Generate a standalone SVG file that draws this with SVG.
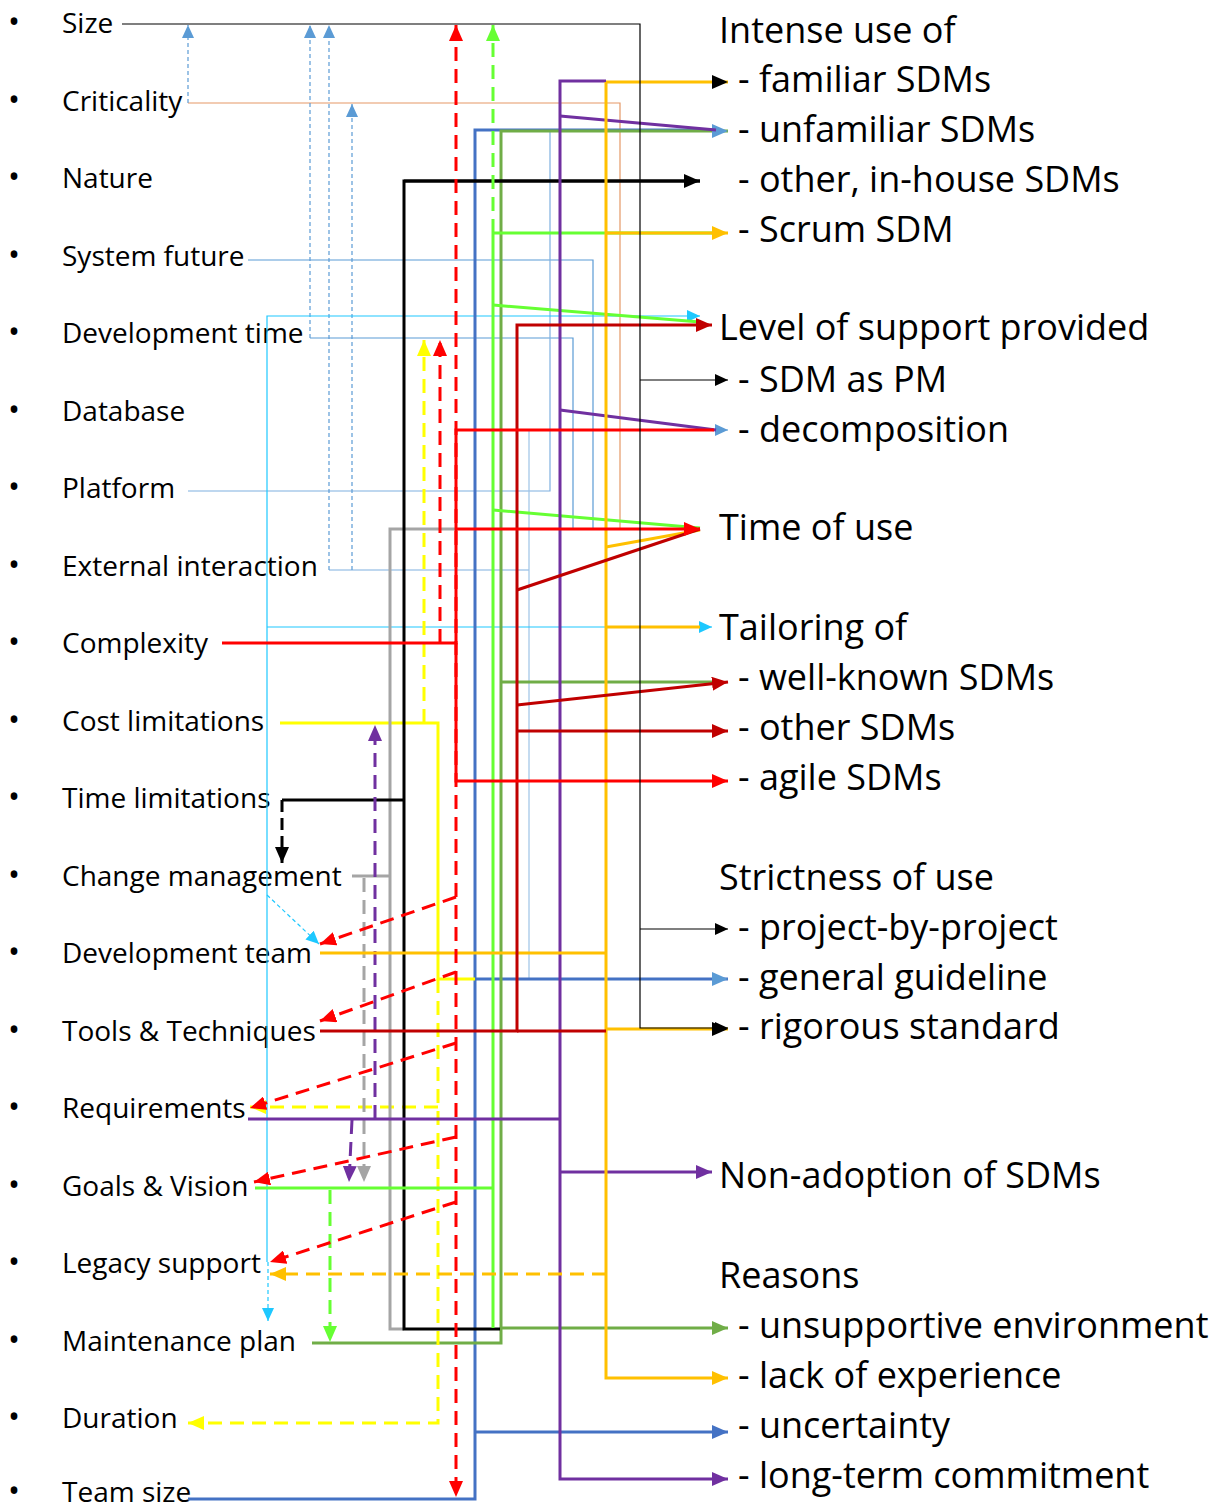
<svg xmlns="http://www.w3.org/2000/svg" width="1224" height="1508" viewBox="0 0 1224 1508">
  <style>
    .lbl { font-family: "Open Sans", "Noto Sans", sans-serif; font-size: 28px; fill: #000; }
    .out { font-family: "Open Sans", "Noto Sans", sans-serif; font-size: 36px; fill: #000; }
    .bul { font-family: "Open Sans", "Noto Sans", sans-serif; font-size: 32px; fill: #000; }
    .ln { fill: none; stroke-linejoin: miter; }
    .thin { stroke-width: 1.2; }
    .thick { stroke-width: 3; }
    .dsh { stroke-dasharray: 14 8; }
    .dot { stroke-dasharray: 4 3; }
  </style>
  <defs>
    <marker id="a-black" markerUnits="userSpaceOnUse" markerWidth="16" markerHeight="14" refX="16" refY="7" orient="auto-start-reverse" viewBox="0 0 16 14"><path d="M0,0 L16,7 L0,14 z" fill="#000"/></marker>
    <marker id="a-red" markerUnits="userSpaceOnUse" markerWidth="16" markerHeight="14" refX="16" refY="7" orient="auto-start-reverse" viewBox="0 0 16 14"><path d="M0,0 L16,7 L0,14 z" fill="#FF0000"/></marker>
    <marker id="a-dred" markerUnits="userSpaceOnUse" markerWidth="16" markerHeight="14" refX="16" refY="7" orient="auto-start-reverse" viewBox="0 0 16 14"><path d="M0,0 L16,7 L0,14 z" fill="#C00000"/></marker>
    <marker id="a-orange" markerUnits="userSpaceOnUse" markerWidth="16" markerHeight="14" refX="16" refY="7" orient="auto-start-reverse" viewBox="0 0 16 14"><path d="M0,0 L16,7 L0,14 z" fill="#FFC000"/></marker>
    <marker id="a-yellow" markerUnits="userSpaceOnUse" markerWidth="16" markerHeight="14" refX="16" refY="7" orient="auto-start-reverse" viewBox="0 0 16 14"><path d="M0,0 L16,7 L0,14 z" fill="#FFFF00"/></marker>
    <marker id="a-green" markerUnits="userSpaceOnUse" markerWidth="16" markerHeight="14" refX="16" refY="7" orient="auto-start-reverse" viewBox="0 0 16 14"><path d="M0,0 L16,7 L0,14 z" fill="#66FF33"/></marker>
    <marker id="a-olive" markerUnits="userSpaceOnUse" markerWidth="16" markerHeight="14" refX="16" refY="7" orient="auto-start-reverse" viewBox="0 0 16 14"><path d="M0,0 L16,7 L0,14 z" fill="#70AD47"/></marker>
    <marker id="a-gray" markerUnits="userSpaceOnUse" markerWidth="16" markerHeight="14" refX="16" refY="7" orient="auto-start-reverse" viewBox="0 0 16 14"><path d="M0,0 L16,7 L0,14 z" fill="#A5A5A5"/></marker>
    <marker id="a-purple" markerUnits="userSpaceOnUse" markerWidth="16" markerHeight="14" refX="16" refY="7" orient="auto-start-reverse" viewBox="0 0 16 14"><path d="M0,0 L16,7 L0,14 z" fill="#7030A0"/></marker>
    <marker id="a-blue" markerUnits="userSpaceOnUse" markerWidth="16" markerHeight="14" refX="16" refY="7" orient="auto-start-reverse" viewBox="0 0 16 14"><path d="M0,0 L16,7 L0,14 z" fill="#4472C4"/></marker>
    <marker id="a-sky" markerUnits="userSpaceOnUse" markerWidth="16" markerHeight="14" refX="16" refY="7" orient="auto-start-reverse" viewBox="0 0 16 14"><path d="M0,0 L16,7 L0,14 z" fill="#5B9BD5"/></marker>
    <marker id="s-black" markerUnits="userSpaceOnUse" markerWidth="13" markerHeight="12" refX="13" refY="6" orient="auto" viewBox="0 0 13 12"><path d="M0,0 L13,6 L0,12 z" fill="#000"/></marker>
    <marker id="s-sky" markerUnits="userSpaceOnUse" markerWidth="13" markerHeight="12" refX="13" refY="6" orient="auto" viewBox="0 0 13 12"><path d="M0,0 L13,6 L0,12 z" fill="#5B9BD5"/></marker>
    <marker id="s-cyan" markerUnits="userSpaceOnUse" markerWidth="13" markerHeight="12" refX="13" refY="6" orient="auto" viewBox="0 0 13 12"><path d="M0,0 L13,6 L0,12 z" fill="#1EC8FF"/></marker>
  </defs>

  <rect width="1224" height="1508" fill="#fff"/>

  <!-- input factors (left column) -->
  <g id="in-size"><text class="bul" x="8" y="33">•</text><text class="lbl" x="62" y="33">Size</text></g>
  <g id="in-criticality"><text class="bul" x="8" y="111">•</text><text class="lbl" x="62" y="111">Criticality</text></g>
  <g id="in-nature"><text class="bul" x="8" y="188">•</text><text class="lbl" x="62" y="188">Nature</text></g>
  <g id="in-system-future"><text class="bul" x="8" y="266">•</text><text class="lbl" x="62" y="266">System future</text></g>
  <g id="in-development-time"><text class="bul" x="8" y="343">•</text><text class="lbl" x="62" y="343">Development time</text></g>
  <g id="in-database"><text class="bul" x="8" y="421">•</text><text class="lbl" x="62" y="421">Database</text></g>
  <g id="in-platform"><text class="bul" x="8" y="498">•</text><text class="lbl" x="62" y="498">Platform</text></g>
  <g id="in-external-interaction"><text class="bul" x="8" y="576">•</text><text class="lbl" x="62" y="576">External interaction</text></g>
  <g id="in-complexity"><text class="bul" x="8" y="653">•</text><text class="lbl" x="62" y="653">Complexity</text></g>
  <g id="in-cost-limitations"><text class="bul" x="8" y="731">•</text><text class="lbl" x="62" y="731">Cost limitations</text></g>
  <g id="in-time-limitations"><text class="bul" x="8" y="808">•</text><text class="lbl" x="62" y="808">Time limitations</text></g>
  <g id="in-change-management"><text class="bul" x="8" y="886">•</text><text class="lbl" x="62" y="886">Change management</text></g>
  <g id="in-development-team"><text class="bul" x="8" y="963">•</text><text class="lbl" x="62" y="963">Development team</text></g>
  <g id="in-tools-techniques"><text class="bul" x="8" y="1041">•</text><text class="lbl" x="62" y="1041">Tools &amp; Techniques</text></g>
  <g id="in-requirements"><text class="bul" x="8" y="1118">•</text><text class="lbl" x="62" y="1118">Requirements</text></g>
  <g id="in-goals-vision"><text class="bul" x="8" y="1196">•</text><text class="lbl" x="62" y="1196">Goals &amp; Vision</text></g>
  <g id="in-legacy-support"><text class="bul" x="8" y="1273">•</text><text class="lbl" x="62" y="1273">Legacy support</text></g>
  <g id="in-maintenance-plan"><text class="bul" x="8" y="1351">•</text><text class="lbl" x="62" y="1351">Maintenance plan</text></g>
  <g id="in-duration"><text class="bul" x="8" y="1428">•</text><text class="lbl" x="62" y="1428">Duration</text></g>
  <g id="in-team-size"><text class="bul" x="8" y="1502">•</text><text class="lbl" x="62" y="1502">Team size</text></g>

  <!-- outcomes (right column) -->
  <g id="out-intense-use">
    <text class="out" x="719" y="43">Intense use of</text>
    <text class="out" x="738" y="92">- familiar SDMs</text>
    <text class="out" x="738" y="142">- unfamiliar SDMs</text>
    <text class="out" x="738" y="192">- other, in-house SDMs</text>
    <text class="out" x="738" y="242">- Scrum SDM</text>
  </g>
  <g id="out-level-of-support">
    <text class="out" x="719" y="340">Level of support provided</text>
    <text class="out" x="738" y="392">- SDM as PM</text>
    <text class="out" x="738" y="442">- decomposition</text>
  </g>
  <g id="out-time-of-use"><text class="out" x="719" y="540">Time of use</text></g>
  <g id="out-tailoring">
    <text class="out" x="719" y="640">Tailoring of</text>
    <text class="out" x="738" y="690">- well-known SDMs</text>
    <text class="out" x="738" y="740">- other SDMs</text>
    <text class="out" x="738" y="790">- agile SDMs</text>
  </g>
  <g id="out-strictness">
    <text class="out" x="719" y="890">Strictness of use</text>
    <text class="out" x="738" y="940">- project-by-project</text>
    <text class="out" x="738" y="990">- general guideline</text>
    <text class="out" x="738" y="1039">- rigorous standard</text>
  </g>
  <g id="out-non-adoption"><text class="out" x="719" y="1188">Non-adoption of SDMs</text></g>
  <g id="out-reasons">
    <text class="out" x="719" y="1288">Reasons</text>
    <text class="out" x="738" y="1338">- unsupportive environment</text>
    <text class="out" x="738" y="1388">- lack of experience</text>
    <text class="out" x="738" y="1438">- uncertainty</text>
    <text class="out" x="738" y="1488">- long-term commitment</text>
  </g>

  <g id="connectors">
    <!-- thin feeds -->
    <path class="ln thin" stroke="#E59866" d="M188,103 H620 V529"/>
    <path class="ln thin" stroke="#5B9BD5" d="M248,260 H593 V529"/>
    <path class="ln thin" stroke="#5B9BD5" d="M310,338 H573 V529"/>
    <path class="ln thin" stroke="#7EB0E0" d="M188,491 H550 V131"/>
    <path class="ln thin" stroke="#7EB0E0" d="M329,570 H529"/>
    <path class="ln thin" stroke="#9DC3E6" d="M529,430 V979"/>
    <path class="ln thin" stroke="#5B9BD5" d="M529,430 H728" marker-end="url(#s-sky)"/>
    <!-- dotted upward arrows to Size / Criticality -->
    <path class="ln thin dot" stroke="#5B9BD5" d="M188,103 V25" marker-end="url(#s-sky)"/>
    <path class="ln thin dot" stroke="#5B9BD5" d="M310,338 V25" marker-end="url(#s-sky)"/>
    <path class="ln thin dot" stroke="#5B9BD5" d="M329,570 V25" marker-end="url(#s-sky)"/>
    <path class="ln thin dot" stroke="#5B9BD5" d="M352,570 V104" marker-end="url(#s-sky)"/>

    <!-- cyan -->
    <path class="ln thin" stroke="#1EC8FF" d="M267,1262 V316 H700" marker-end="url(#s-cyan)"/>
    <path class="ln thin" stroke="#1EC8FF" d="M267,627 H712" marker-end="url(#s-cyan)"/>
    <path class="ln thin dot" stroke="#1EC8FF" d="M268,1262 V1321" marker-end="url(#s-cyan)"/>
    <path class="ln thin dot" stroke="#1EC8FF" d="M267,895 L319,944" marker-end="url(#s-cyan)"/>

    <!-- blue (Team size) -->
    <path class="ln thick" stroke="#4472C4" d="M188,1499 H475 V130 H716"/>
    <path class="ln thick" stroke="#4472C4" d="M475,979 H728" marker-end="url(#a-sky)"/>
    <path class="ln thick" stroke="#4472C4" d="M475,1432 H728" marker-end="url(#a-blue)"/>

    <!-- olive (Maintenance plan) -->
    <path class="ln thick" stroke="#70AD47" d="M312,1343 H501 V131 H728" marker-end="url(#a-sky)"/>
    <path class="ln thick" stroke="#70AD47" d="M501,682 H716"/>

    <!-- yellow (Cost limitations) -->
    <path class="ln thick" stroke="#FFFF00" d="M280,723 H438 V979 H475"/>
    <path class="ln thick dsh" stroke="#FFFF00" d="M424,723 V340" marker-end="url(#a-yellow)"/>
    <path class="ln thick dsh" stroke="#FFFF00" d="M438,979 V1423 H188" marker-end="url(#a-yellow)"/>
    <path class="ln thick dsh" stroke="#FFFF00" d="M438,1107 H250" marker-end="url(#a-yellow)"/>

    <!-- gray (Change management) -->
    <path class="ln thick" stroke="#A5A5A5" d="M352,876 H390"/>
    <path class="ln thick" stroke="#A5A5A5" d="M456,529 H390 V1329 H404"/>
    <path class="ln thick dsh" stroke="#A5A5A5" d="M364,878 V1182" marker-end="url(#a-gray)"/>

    <!-- black (Time limitations) -->
    <path class="ln thick" stroke="#000" d="M282,800 H404"/>
    <path class="ln thick" stroke="#000" d="M700,181 H404 V1329 H500"/>
    <path class="ln thick" stroke="#000" d="M404,181 H700" marker-end="url(#a-black)"/>
    <path class="ln thick" stroke="#000" stroke-dasharray="12 6" d="M282,800 V863" marker-end="url(#a-black)"/>

    <!-- green (Goals & Vision) -->
    <path class="ln thick" stroke="#66FF33" d="M255,1188 H493"/>
    <path class="ln thick" stroke="#66FF33" d="M493,233 V1328"/>
    <path class="ln thick dsh" stroke="#66FF33" d="M493,233 V25" marker-end="url(#a-green)"/>
    <path class="ln thick" stroke="#66FF33" d="M493,233 H720"/>
    <path class="ln thick" stroke="#66FF33" d="M493,305 L700,322"/>
    <path class="ln thick" stroke="#66FF33" d="M493,510 L700,528"/>
    <path class="ln thick dsh" stroke="#66FF33" d="M330,1190 V1342" marker-end="url(#a-green)"/>
    <path class="ln thick" stroke="#70AD47" d="M500,1328 H728" marker-end="url(#a-olive)"/>

    <!-- purple (Requirements) -->
    <path class="ln thick" stroke="#7030A0" d="M248,1119 H560"/>
    <path class="ln thick" stroke="#7030A0" d="M606,81 H560 V1479 H728" marker-end="url(#a-purple)"/>
    <path class="ln thick" stroke="#7030A0" d="M560,116 L716,130"/>
    <path class="ln thick" stroke="#7030A0" d="M560,410 L716,430"/>
    <path class="ln thick" stroke="#7030A0" d="M560,1172 H712" marker-end="url(#a-purple)"/>
    <path class="ln thick dsh" stroke="#7030A0" d="M375,1119 V725" marker-end="url(#a-purple)"/>
    <path class="ln thick dsh" stroke="#7030A0" d="M352,1120 L349,1182" marker-end="url(#a-purple)"/>

    <!-- orange (Development team) -->
    <path class="ln thick" stroke="#FFC000" d="M320,953 H606"/>
    <path class="ln thick" stroke="#FFC000" d="M606,82 V1378 H728" marker-end="url(#a-orange)"/>
    <path class="ln thick" stroke="#FFC000" d="M606,82 H728" marker-end="url(#a-black)"/>
    <path class="ln thick" stroke="#FFC000" d="M606,233 H728" marker-end="url(#a-orange)"/>
    <path class="ln thick" stroke="#FFC000" d="M606,547 L700,530"/>
    <path class="ln thick" stroke="#FFC000" d="M606,627 H700"/>
    <path class="ln thick dsh" stroke="#FFC000" d="M606,1274 H270" marker-end="url(#a-orange)"/>

    <!-- dark red (Tools & Techniques) -->
    <path class="ln thick" stroke="#C00000" d="M320,1031 H517 V325 H712" marker-end="url(#a-dred)"/>
    <path class="ln thick" stroke="#C00000" d="M517,1031 H606"/>
    <path class="ln thick" stroke="#C00000" d="M517,590 L700,529"/>
    <path class="ln thick" stroke="#C00000" d="M517,705 L728,682" marker-end="url(#a-dred)"/>
    <path class="ln thick" stroke="#C00000" d="M517,731 H728" marker-end="url(#a-dred)"/>
    <path class="ln thick" stroke="#FFC000" d="M606,1029 H728" marker-end="url(#a-black)"/>

    <!-- red (Complexity) -->
    <path class="ln thick" stroke="#FF0000" d="M222,643 H456 V430 H714"/>
    <path class="ln thick" stroke="#FF0000" d="M456,643 V781 H728" marker-end="url(#a-red)"/>
    <path class="ln thick" stroke="#FF0000" d="M456,529 H700" marker-end="url(#a-red)"/>
    <path class="ln thick dsh" stroke="#FF0000" d="M440,643 V340" marker-end="url(#a-red)"/>
    <!-- red dashed: Size <-> Team size and fan-out -->
    <path class="ln thick dsh" stroke="#FF0000" d="M456,25 V1497" marker-start="url(#a-red)" marker-end="url(#a-red)"/>
    <path class="ln thick dsh" stroke="#FF0000" d="M456,897 L320,944" marker-end="url(#a-red)"/>
    <path class="ln thick dsh" stroke="#FF0000" d="M456,972 L320,1021" marker-end="url(#a-red)"/>
    <path class="ln thick dsh" stroke="#FF0000" d="M456,1043 L250,1108" marker-end="url(#a-red)"/>
    <path class="ln thick dsh" stroke="#FF0000" d="M456,1137 L254,1182" marker-end="url(#a-red)"/>
    <path class="ln thick dsh" stroke="#FF0000" d="M456,1202 L270,1262" marker-end="url(#a-red)"/>

    <!-- Size (thin black) -->
    <path class="ln thin" stroke="#000" d="M122,24 H640 V1028 H728" marker-end="url(#s-black)"/>
    <path class="ln thin" stroke="#000" d="M640,380 H728" marker-end="url(#s-black)"/>
    <path class="ln thin" stroke="#000" d="M640,929 H728" marker-end="url(#s-black)"/>
  </g>
</svg>
